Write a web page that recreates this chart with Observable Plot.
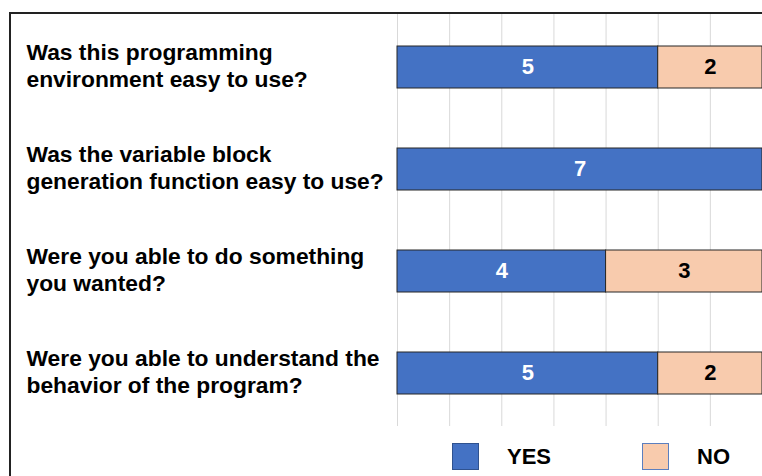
<!DOCTYPE html>
<html><head><meta charset="utf-8">
<script src="https://cdn.jsdelivr.net/npm/d3@7"></script>
<script src="https://cdn.jsdelivr.net/npm/@observablehq/plot@0.6"></script>
<style>
html,body{margin:0;padding:0;background:#fff;overflow:hidden;}
body{width:762px;height:476px;font-family:"Liberation Sans",Arial,sans-serif;}
#frame{position:absolute;left:9px;top:12px;width:820px;height:520px;border-top:2px solid #222;border-left:2px solid #222;}
#chart svg{display:block;}
#legend{position:absolute;left:441px;top:429px;display:flex;align-items:center;font-weight:bold;font-size:22px;color:#000;}
.sw{width:27px;height:27px;box-sizing:border-box;border:1px solid;}
</style></head><body>
<div id="frame"><div id="chart"></div><div id="legend"></div></div>
<script>
const questions = [
  "Was this programming environment easy to use?",
  "Was the variable block generation function easy to use?",
  "Were you able to do something you wanted?",
  "Were you able to understand the behavior of the program?"
];
const questionLabels = [
  "Was this programming\nenvironment easy to use?",
  "Was the variable block\ngeneration function easy to use?",
  "Were you able to do something\nyou wanted?",
  "Were you able to understand the\nbehavior of the program?"
];
const yesValues = [5, 7, 4, 5];
const noValues = [2, 0, 3, 2];
const seriesNames = ["YES", "NO"];
const seriesColors = ["#4472C4", "#F8CBAD"];
const swatchStrokes = ["#2F528F", "#5B7FBF"];
const xTicks = [0, 1, 2, 3, 4, 5, 6, 7];

const data = questions.flatMap((q, i) => [
  {question: q, answer: "YES", value: yesValues[i]},
  {question: q, answer: "NO", value: noValues[i]}
]);

const font = '"Liberation Sans", Arial, sans-serif';

const chart = Plot.plot({
  width: 751,
  height: 412,
  marginLeft: 386,
  marginRight: 0,
  marginTop: 0,
  marginBottom: 0,
  x: {domain: [0, 7], axis: null},
  y: {domain: questions, paddingInner: 0.59, paddingOuter: 0.3, axis: null},
  color: {domain: seriesNames, range: seriesColors},
  style: {fontFamily: font, fontSize: "22px", fontWeight: "bold", background: "white", overflow: "visible", color: "#000"},
  marks: [
    Plot.gridX({ticks: xTicks, stroke: "#d9d9d9", strokeOpacity: 1, strokeWidth: 1}),
    Plot.barX(data, Plot.stackX({x: "value", y: "question", fill: "answer", stroke: "#262626", strokeWidth: 1, order: seriesNames})),
    Plot.text(data, Plot.stackX({x: "value", y: "question", z: "answer", order: seriesNames, dy: -1,
      text: d => (d.answer === "YES" && d.value > 0) ? String(d.value) : null, fill: "white"})),
    Plot.text(data, Plot.stackX({x: "value", y: "question", z: "answer", order: seriesNames, dy: -1,
      text: d => (d.answer === "NO" && d.value > 0) ? String(d.value) : null, fill: "black"})),
    Plot.text(questions, {y: d => d, text: (d, i) => questionLabels[i], frameAnchor: "left",
      textAnchor: "start", dx: -371, dy: -2.5, fontSize: 22.8, lineHeight: 1.17, fill: "black"})
  ]
});
document.getElementById("chart").appendChild(chart);

const legend = document.getElementById("legend");
seriesNames.forEach((name, i) => {
  const sw = document.createElement("div");
  sw.className = "sw";
  sw.style.background = seriesColors[i];
  sw.style.borderColor = swatchStrokes[i];
  if (i > 0) sw.style.marginLeft = "91px";
  const t = document.createElement("span");
  t.textContent = name;
  t.style.marginLeft = "28px";
  legend.appendChild(sw);
  legend.appendChild(t);
});
</script>
</body></html>
